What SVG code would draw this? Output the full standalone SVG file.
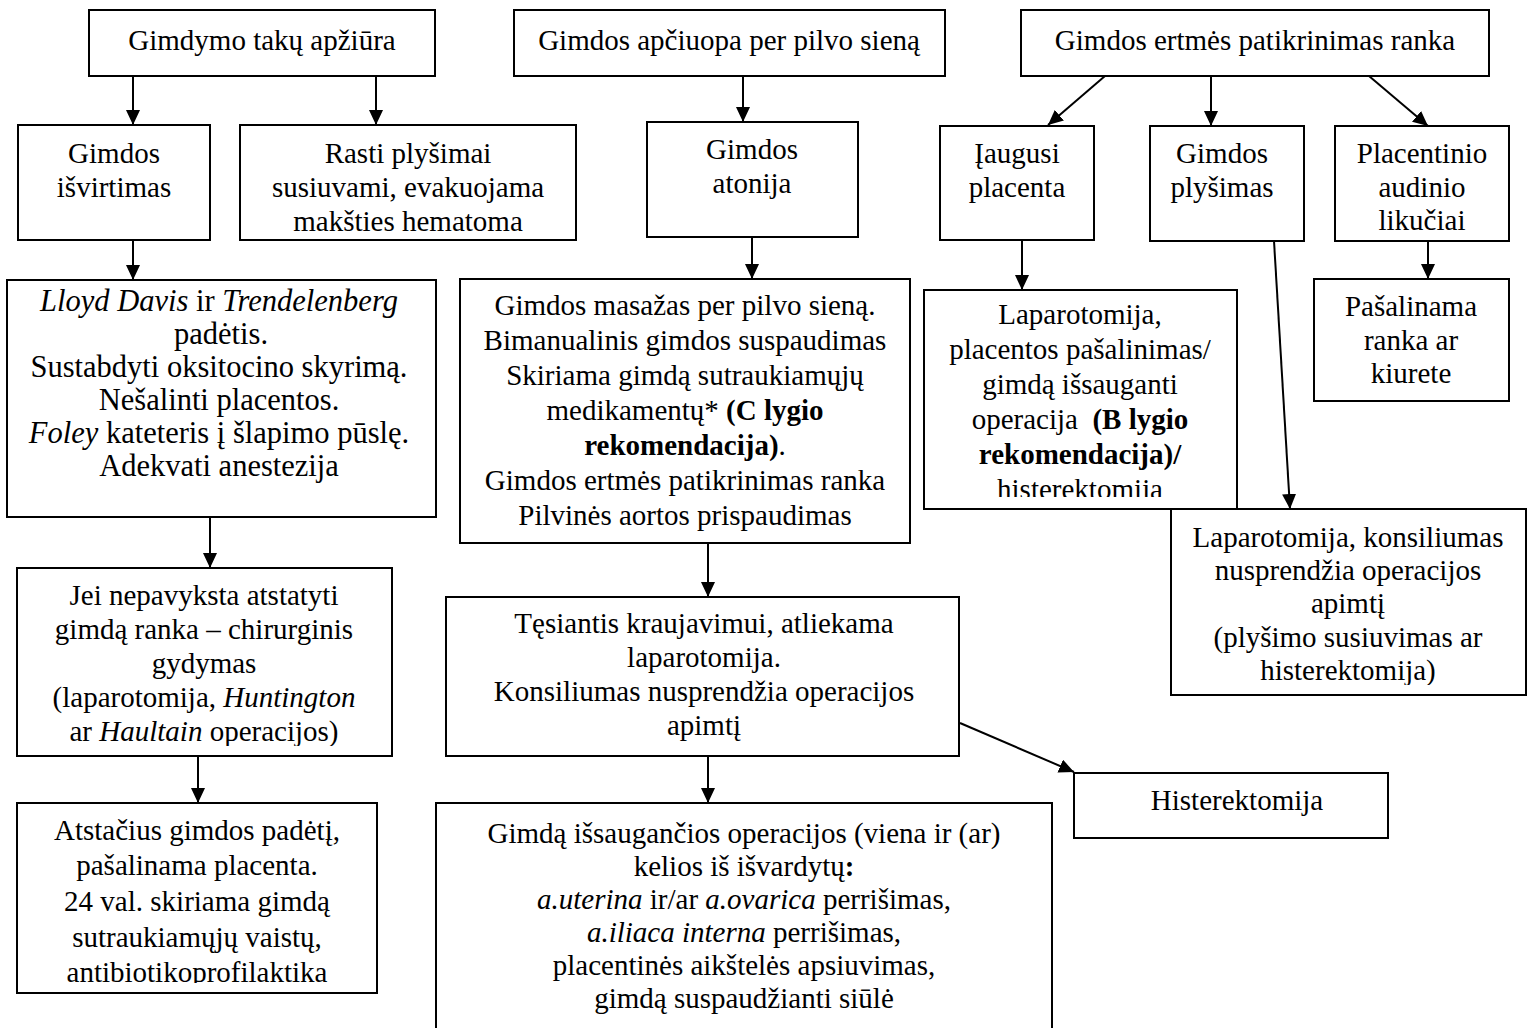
<svg xmlns="http://www.w3.org/2000/svg" width="1528" height="1028" viewBox="0 0 1528 1028" font-family="Liberation Serif, Times New Roman, serif">
<style>
.box{fill:#fff;stroke:#000;stroke-width:2}
.t{font-size:29px;text-anchor:middle;fill:#000}
.l{font-size:30.5px}
.c{fill:none;stroke:#000;stroke-width:2;marker-end:url(#ah)}
.i{font-style:italic}
.b{font-weight:bold}
</style>
<defs>
<marker id="ah" markerUnits="userSpaceOnUse" markerWidth="15" markerHeight="14" refX="15" refY="7" orient="auto">
<path d="M0,0 L15,7 L0,14 z" fill="#000"/>
</marker>
<clipPath id="clipJei"><rect x="17" y="568" width="375" height="178"/></clipPath>
<clipPath id="clipAts"><rect x="17" y="803" width="360" height="180"/></clipPath>
<clipPath id="clipLap"><rect x="924" y="290" width="313" height="207"/></clipPath>
<clipPath id="clipKon"><rect x="1171" y="509" width="355" height="176"/></clipPath>
</defs>
<rect width="1528" height="1028" fill="#fff"/>

<g id="connectors">
<line class="c" x1="133" y1="76" x2="133" y2="125"/>
<line class="c" x1="376" y1="76" x2="376" y2="125"/>
<line class="c" x1="743" y1="76" x2="743" y2="122"/>
<line class="c" x1="1105" y1="76" x2="1048" y2="125"/>
<line class="c" x1="1211" y1="76" x2="1211" y2="126"/>
<line class="c" x1="1369" y1="76" x2="1428" y2="126"/>
<line class="c" x1="133" y1="240" x2="133" y2="280"/>
<line class="c" x1="752" y1="237" x2="752" y2="279"/>
<line class="c" x1="1022" y1="240" x2="1022" y2="290"/>
<line class="c" x1="1274" y1="241" x2="1290" y2="509"/>
<line class="c" x1="1428" y1="241" x2="1428" y2="279"/>
<line class="c" x1="210" y1="517" x2="210" y2="568"/>
<line class="c" x1="708" y1="543" x2="708" y2="597"/>
<line class="c" x1="198" y1="756" x2="198" y2="803"/>
<line class="c" x1="708" y1="756" x2="708" y2="803"/>
<line class="c" x1="960" y1="723" x2="1074" y2="772"/>
</g>

<g id="n-gimdymo">
<rect class="box" x="89" y="10" width="346" height="66"/>
<text class="t" x="262" y="50">Gimdymo takų apžiūra</text>
</g>
<g id="n-apciuopa">
<rect class="box" x="514" y="10" width="431" height="66"/>
<text class="t" x="729" y="50">Gimdos apčiuopa per pilvo sieną</text>
</g>
<g id="n-ertmes">
<rect class="box" x="1021" y="10" width="468" height="66"/>
<text class="t" x="1255" y="50">Gimdos ertmės patikrinimas ranka</text>
</g>

<g id="n-isvirtimas">
<rect class="box" x="18" y="125" width="192" height="115"/>
<text class="t" x="114" y="163">Gimdos</text>
<text class="t" x="114" y="197">išvirtimas</text>
</g>
<g id="n-rasti">
<rect class="box" x="240" y="125" width="336" height="115"/>
<text class="t" x="408" y="163">Rasti plyšimai</text>
<text class="t" x="408" y="197">susiuvami, evakuojama</text>
<text class="t" x="408" y="231">makšties hematoma</text>
</g>
<g id="n-atonija">
<rect class="box" x="647" y="122" width="211" height="115"/>
<text class="t" x="752" y="159">Gimdos</text>
<text class="t" x="752" y="193">atonija</text>
</g>
<g id="n-iaugusi">
<rect class="box" x="940" y="126" width="154" height="114"/>
<text class="t" x="1017" y="163">Įaugusi</text>
<text class="t" x="1017" y="197">placenta</text>
</g>
<g id="n-plysimas">
<rect class="box" x="1150" y="126" width="154" height="115"/>
<text class="t" x="1222" y="163">Gimdos</text>
<text class="t" x="1222" y="197">plyšimas</text>
</g>
<g id="n-likuciai">
<rect class="box" x="1335" y="126" width="174" height="115"/>
<text class="t" x="1422" y="163">Placentinio</text>
<text class="t" x="1422" y="197">audinio</text>
<text class="t" x="1422" y="230">likučiai</text>
</g>

<g id="n-lloyd">
<rect class="box" x="7" y="280" width="429" height="237"/>
<text class="t l" x="219" y="311"><tspan class="i">Lloyd Davis</tspan> ir <tspan class="i">Trendelenberg</tspan></text>
<text class="t l" x="221" y="344">padėtis.</text>
<text class="t l" x="219" y="377">Sustabdyti oksitocino skyrimą.</text>
<text class="t l" x="219" y="410">Nešalinti placentos.</text>
<text class="t l" x="219" y="443"><tspan class="i">Foley</tspan> kateteris į šlapimo pūslę.</text>
<text class="t l" x="219" y="476">Adekvati anestezija</text>
</g>
<g id="n-masazas">
<rect class="box" x="460" y="279" width="450" height="264"/>
<text class="t" x="685" y="315">Gimdos masažas per pilvo sieną.</text>
<text class="t" x="685" y="350">Bimanualinis gimdos suspaudimas</text>
<text class="t" x="685" y="385">Skiriama gimdą sutraukiamųjų</text>
<text class="t" x="685" y="420">medikamentų* <tspan class="b">(C lygio</tspan></text>
<text class="t" x="685" y="455"><tspan class="b">rekomendacija)</tspan>.</text>
<text class="t" x="685" y="490">Gimdos ertmės patikrinimas ranka</text>
<text class="t" x="685" y="525">Pilvinės aortos prispaudimas</text>
</g>
<g id="n-laparotomija-placenta">
<rect class="box" x="924" y="290" width="313" height="219"/>
<g clip-path="url(#clipLap)">
<text class="t" x="1080" y="324">Laparotomija,</text>
<text class="t" x="1080" y="359">placentos pašalinimas/</text>
<text class="t" x="1080" y="394">gimdą išsauganti</text>
<text class="t" x="1080" y="429" xml:space="preserve">operacija  <tspan class="b">(B lygio</tspan></text>
<text class="t b" x="1080" y="464">rekomendacija)/</text>
<text class="t" x="1080" y="499">histerektomija</text>
</g>
</g>
<g id="n-pasalinama">
<rect class="box" x="1314" y="279" width="195" height="122"/>
<text class="t" x="1411" y="316">Pašalinama</text>
<text class="t" x="1411" y="350">ranka ar</text>
<text class="t" x="1411" y="383">kiurete</text>
</g>

<g id="n-konsiliumas">
<rect class="box" x="1171" y="509" width="355" height="186"/>
<g clip-path="url(#clipKon)">
<text class="t" x="1348" y="547">Laparotomija, konsiliumas</text>
<text class="t" x="1348" y="580">nusprendžia operacijos</text>
<text class="t" x="1348" y="613">apimtį</text>
<text class="t" x="1348" y="647">(plyšimo susiuvimas ar</text>
<text class="t" x="1348" y="680">histerektomija)</text>
</g>
</g>

<g id="n-jei">
<rect class="box" x="17" y="568" width="375" height="188"/>
<g clip-path="url(#clipJei)">
<text class="t" x="204" y="605">Jei nepavyksta atstatyti</text>
<text class="t" x="204" y="639">gimdą ranka – chirurginis</text>
<text class="t" x="204" y="673">gydymas</text>
<text class="t" x="204" y="707">(laparotomija, <tspan class="i">Huntington</tspan></text>
<text class="t" x="204" y="741">ar <tspan class="i">Haultain</tspan> operacijos)</text>
</g>
</g>
<g id="n-tesiantis">
<rect class="box" x="446" y="597" width="513" height="159"/>
<text class="t" x="704" y="633">Tęsiantis kraujavimui, atliekama</text>
<text class="t" x="704" y="667">laparotomija.</text>
<text class="t" x="704" y="701">Konsiliumas nusprendžia operacijos</text>
<text class="t" x="704" y="735">apimtį</text>
</g>
<g id="n-histerektomija">
<rect class="box" x="1074" y="773" width="314" height="65"/>
<text class="t" x="1237" y="810">Histerektomija</text>
</g>

<g id="n-atstacius">
<rect class="box" x="17" y="803" width="360" height="190"/>
<g clip-path="url(#clipAts)">
<text class="t" x="197" y="840">Atstačius gimdos padėtį,</text>
<text class="t" x="197" y="875">pašalinama placenta.</text>
<text class="t" x="197" y="911">24 val. skiriama gimdą</text>
<text class="t" x="197" y="947">sutraukiamųjų vaistų,</text>
<text class="t" x="197" y="982">antibiotikoprofilaktika</text>
</g>
</g>
<g id="n-gimda-issaugancios">
<rect class="box" x="436" y="803" width="616" height="240"/>
<text class="t" x="744" y="843">Gimdą išsaugančios operacijos (viena ir (ar)</text>
<text class="t" x="744" y="876">kelios iš išvardytų<tspan class="b">:</tspan></text>
<text class="t" x="744" y="909"><tspan class="i">a.uterina</tspan> ir/ar <tspan class="i">a.ovarica</tspan> perrišimas,</text>
<text class="t" x="744" y="942"><tspan class="i">a.iliaca interna</tspan> perrišimas,</text>
<text class="t" x="744" y="975">placentinės aikštelės apsiuvimas,</text>
<text class="t" x="744" y="1008">gimdą suspaudžianti siūlė</text>
</g>
</svg>
